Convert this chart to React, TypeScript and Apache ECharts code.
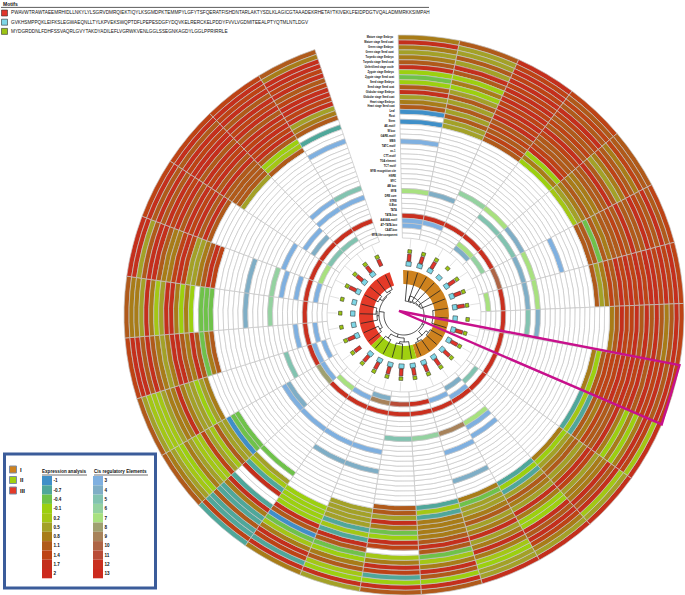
import React, { useEffect, useRef } from "react";
import * as echarts from "echarts";

const _ = null;
const rowLabels = [
  "Mature stage Embryo","Mature stage Seed coat","Green stage Embryo","Green stage Seed coat","Torpedo stage Embryo","Torpedo stage Seed coat",
  "Unfertilized stage ovule","Zygote stage Embryo","Zygote stage Seed coat","Seed stage Embryo","Seed stage Seed coat","Globular stage Embryo",
  "Globular stage Seed coat","Heart stage Embryo","Heart stage Seed coat","Leaf","Root","Stem",
  "AE-motif","W box","GARE-motif","MBS","TATC-motif","as-1","CTT-motif","TGA element","TCT motif","MYB recognition site","HSRE","MYC","AB box","MYB","DRE core","STRE","G-Box","TATA","TATA-box","AAGAA-motif","AT~TATA-box","CAAT-box","MYB-like component",
];
const col00 = [.8,1.7,.8,.5,.8,1.1,1.7,-.1,-.4,-.1,1.1,1.7,.5,.8,1.1,-1,_,-1];
const col01 = [1.1,.5,.5,1.1,.5,1.7,1.1,-.1,.8,-.1,.5,1.1,.5,1.1,.5,1.1,.5,.5];
const col02 = [1.7,1.4,1.7,1.4,1.7,1.4,1.7,1.4,1.7,1.4,1.7,1.4,1.7,1.1,1.4,1.1,1.4,1.1];
const col03 = [1.4,1.1,1.4,1.1,1.7,1.4,1.1,1.4,1.1,1.7,1.4,1.1,1.1,1.4,1.7,-.1,.8,-.1];
const col04 = [1.1,1.1,1.4,.8,1.1,1.4,.8,.5,1.1,1.7,1.1,1.1,.8,.8,1.1,.8,.5,.2];
const col05 = [1.4,1.1,1.7,1.1,1.4,1.7,1.1,1.1,1.7,1.1,1.4,1.1,1.1,.8,1.1,-.3,1.1,1.1];
const col06 = [1.4,1.7,1.4,1.7,1.4,1.7,1.7,1.4,1.7,1.4,1.7,1.4,1.7,1.1,1.4,.8,.5,1.1];
const col07 = [1.4,1.7,1.1,.8,1.1,1.7,1.1,1.7,1.1,1.7,1.4,1.4,1.7,1.1,.8,_,_,_];
const col08 = [1.4,1.7,1.1,1.7,1.4,1.7,1.1,1.7,1.4,1.7,1.4,1.7,1.4,1.4,1.4,1.1,-.1,.8];
const col09 = [1.7,.2,1.4,1.7,.8,-.1,.8,-.1,.8,1.7,1.1,1.1,1.4,.8,1.1,-.6,.2,-.8];
const col10 = [1.7,.5,.2,1.7,1.1,1.7,.8,.8,.5,1.4,1.7,.8,.5,1.1,.8,.5,-.1,.8];
const col11 = [1.7,.5,.8,1.4,1.7,1.1,1.7,-.1,-.1,.8,1.7,.5,.8,1.1,.5,-.8,-.2,-.8];
const col12 = [1.7,.5,.5,-.1,.2,.8,1.7,.8,.5,1.7,.8,.5,1.1,.8,.5,.5,-.3,.8];
const col13 = [1.1,1.7,-.1,1.1,1.7,.8,.2,-.4,1.1,1.7,1.1,.8,.8,.8,.8,-.8,.2,-.7];
const col14 = [1.1,1.7,-.1,-.7,1.4,1.7,.8,.2,_,1.4,1.7,-.1,-.4,.8,1.7,.5,1.1,1.1];
const col15 = [.5,1.7,-.1,.2,1.1,.8,-.1,-.4,1.1,1.7,-.7,.2,-.7,.5,.5,.5,.5,_];
const col16 = [.8,1.7,-.8,1.4,1.7,.8,.2,-.3,-1,1.1,1.7,-.1,-.1,-.1,-.1,_,_,_];
const col17 = [-.7,1.4,-.6,-.7,1.1,-.6,-.7,.8,1.7,-.7,_,_,1.7,-.7,.2,.5,_,-.4];
const col18 = [1.1,.8,.5,.2,-.1,.8,.5,.2,.2,1.4,.5,.2,1.1,.5,.5,-1,-.5,-.4];
const col19 = [1.1,.5,.2,.2,.2,.5,.8,.8,1.7,.8,.5,.5,-.1,.5,.8,_,_,_];
const col20 = [1.4,1.7,1.7,1.1,1.7,1.1,.8,.5,.8,1.7,1.7,1.1,.8,1.7,1.1,-.4,.8,1.1];
const col21 = [1.1,.8,.8,.5,1.7,.8,.2,.5,1.7,1.7,.8,-.1,.8,-.1,_,-.4,-.4,-.4];
const col22 = [1.7,1.7,.5,1.1,1.7,1.7,1.1,.8,.8,1.4,1.7,1.4,.5,.5,.8,1.1,1.7,1.4];
const col23 = [1.4,1.7,1.1,1.7,1.1,1.7,1.4,1.7,1.1,1.7,1.4,1.7,1.1,1.7,1.1,_,_,_];
const col24 = [1.4,1.7,1.1,1.7,1.4,1.7,1.7,1.1,1.7,1.4,1.7,1.1,1.7,1.1,1.1,1.1,1.1,.5];
const col25 = [1.4,1.7,1.4,1.7,1.1,1.7,1.4,1.7,1.1,1.7,1.4,1.7,1.4,1.7,1.1,-.1,.2,1.1];
const col26 = [1.1,.8,1.7,1.7,1.4,1.7,1.1,1.4,1.7,1.7,1.4,1.7,.5,.8,1.1,_,-.7,_];
const exprCols = [col00,col01,col02,col03,col04,col05,col06,col07,col08,col09,col10,col11,col12,col13,col14,col15,col16,col17,col18,col19,col20,col21,col22,col23,col24,col25,col26];

// [row, column, value]
const cisCells = [
  [21,0,3],[31,0,7],[36,0,12],[37,0,3],[38,0,3],
  [31,1,4],[36,1,12],[37,1,3],
  [29,2,6],[36,2,12],
  [29,3,7],[31,3,5],[36,3,12],[38,3,7],[39,3,4],
  [29,4,4],[31,4,5],[36,4,12],[38,4,6],
  [23,5,3],[29,5,7],[31,5,4],[36,5,10],
  [29,6,7],[31,6,4],[36,6,12],[39,6,7],
  [29,7,4],[31,7,5],[36,7,12],
  [36,8,12],[36,9,12],
  [36,10,12],[38,10,5],
  [28,11,3],[30,11,3],[31,11,7],[36,11,12],[37,11,3],[39,11,4],
  [21,12,4],[27,12,3],[31,12,9],[36,12,12],[38,12,3],
  [31,13,6],[36,13,12],[38,13,12],
  [31,14,5],[36,14,12],[38,14,11],
  [24,15,4],[28,15,3],[36,15,12],[38,15,9],[39,15,4],
  [24,16,4],[28,16,3],[36,16,12],[38,16,3],
  [28,17,3],[36,17,12],[38,17,7],
  [28,18,3],[29,18,4],[36,18,8],[37,18,3],
  [31,19,5],[36,19,12],[37,19,3],[39,19,3],
  [34,20,3],[36,20,12],[38,20,3],
  [24,21,4],[29,21,6],[36,21,12],
  [24,22,4],[29,22,6],[31,22,3],[34,22,3],[36,22,12],[38,22,3],
  [30,23,3],[36,23,12],[38,23,7],
  [32,24,3],[34,24,4],[36,24,12],[38,24,5],
  [29,25,3],[31,25,3],[36,25,12],[38,25,5],
  [19,26,3],[29,26,5],[31,26,3],[36,26,12],
];

const exprTicks = [-1,-0.7,-0.4,-0.1,0.2,0.5,0.8,1.1,1.4,1.7,2];
const exprColors = ["#3F8FC8","#4FA79A","#6FC24A","#9CD00F","#A3C715","#A3A127","#A87C18","#B05A1A","#BD4315","#C42F1C","#CC2A1E"];
const cisTicks = [3,4,5,6,7,8,9,10,11,12,13];
const cisColors = ["#7FB0E0","#7FAEC6","#82C3B0","#94D2A0","#A8E17F","#9FA070","#A7825A","#AE6545","#B94C38","#C9301F","#CC2A1E"];

const clusterNames = ["I","II","III"];
const clusterColors = ["#CE821E","#A0D010","#E43A28"];
const clusterSizes = [13,5,9];

const motifTitles = [
  "PWAVWTRAWTAEEMRHIDLLNKYLYLSGRVDMRQIEKTIQYLKSGMDPKTEMMPYLGFYTSFQERATFISHDNTARLAKTYSDLKLAGICGTAAADEKRHETAYTKIVEKLFEIDPDGTVQALADMMRKKSIMPAH",
  "GVKHSMPPQKLEIFKSLEGWAEQNLLTYLKPVEKSWQPTDFLPEPESDGFYDQVKELRERCKELPDDYFVVLVGDMITEEALPTYQTMLNTLDGV",
  "MYDGRDDNLFDHFSSVAQRLGVYTAKDYADILEFLVGRWKVENLGGLSSEGNKAGDYLGGLPPRIRRLE",
];
const motifColors = ["#E0352B","#7FD6E6","#9CC414"];
const motifRedCols = [0,1,2,4,5,6,8,9,10,11,12,13,14,15,16,17,18,19,23,24,25,26];
const motifCyanCols = [0,1,2,3,4,5,6,7,8,9,10,11,12,13,14,15,16,17,19,20,21,22,23,24,25];
const motifGreenCols = [0,1,2,3,4,5,6,7,8,9,10,11,12,13,14,15,16,17,18,19,20,21,22,23,24,25,26];

// node = [radius, children...]; a number child is a leaf column
const treeRoot: any = [20,
  [14,0,[15,1,[16,2,[17,3,[18,4,5]]]]],
  [22,[29,6,7,8],[27,[30,9,10],[30,11,12]]],
  [23,[27,13,[29,14,15]],[28,16,17]],
  [25,[28,18,19],[27,20,[28,21,22]],[26,[29,23,24],[28,25,26]]],
];

const COLS = 27;
const ANGLE_MAX = 360 / 12.69;
const START = 91.2;
const LEAF_R = 44;

const nearest = (ticks: number[], colors: string[], v: number) => {
  let best = 0;
  ticks.forEach((t, i) => { if (Math.abs(t - v) < Math.abs(ticks[best] - v)) best = i; });
  return colors[best];
};

export default function App() {
  const ref = useRef<HTMLDivElement>(null);
  useEffect(() => {
    const chart = echarts.init(ref.current!, undefined, { renderer: "svg" });

    // heat cells
    const cells: any[] = [];
    const cisMap: Record<string, number> = {};
    cisCells.forEach(([r, c, v]) => { cisMap[r + "_" + c] = v; });
    for (let c = 0; c < COLS; c++) {
      for (let r = 0; r < rowLabels.length; r++) {
        let color = "#ffffff";
        if (r < 18) {
          const v = exprCols[c][r];
          if (v !== null) color = nearest(exprTicks, exprColors, v as number);
        } else if (cisMap[r + "_" + c] !== undefined) {
          color = nearest(cisTicks, cisColors, cisMap[r + "_" + c]);
        }
        cells.push({ r, c, color, value: [r, c] });
      }
    }

    // cluster ring
    const ring: any[] = [];
    let idx = 0;
    clusterSizes.forEach((n, k) => { ring.push({ from: idx, to: idx + n, color: clusterColors[k], value: [38, idx] }); idx += n; });

    // dendrogram
    const links: any[] = [];
    const walk = (node: any): number => {
      if (typeof node === "number") return node + 0.5;
      const [rad, ...kids] = node;
      const angles = kids.map((k: any) => {
        const a = walk(k);
        links.push({ type: "r", from: rad, to: typeof k === "number" ? LEAF_R : k[0], a });
        return a;
      });
      const lo = Math.min(...angles), hi = Math.max(...angles);
      links.push({ type: "a", rad, lo, hi });
      return (lo + hi) / 2;
    };
    walk(treeRoot);

    // motif glyphs
    const glyphs: any[] = [];
    motifCyanCols.forEach((c) => glyphs.push({ c, r0: 49, r1: 53.5, hw: 2.6, color: motifColors[1] }));
    motifRedCols.forEach((c) => glyphs.push({ c, r0: 54, r1: 61, hw: 1.8, color: motifColors[0] }));
    motifGreenCols.forEach((c) => glyphs.push({ c, r0: 62, r1: 65.5, hw: 1.9, color: motifColors[2] }));

    const sectorOf = (api: any, cs: any, rr0: number, rr1: number, a0: number, a1: number, style: any) => {
      const p0 = api.coord([rr1, a0]);
      const p1 = api.coord([rr1, a1]);
      return {
        type: "sector",
        shape: {
          cx: cs.cx, cy: cs.cy, r: rr1, r0: rr0,
          startAngle: Math.atan2(p0[1] - cs.cy, p0[0] - cs.cx),
          endAngle: Math.atan2(p1[1] - cs.cy, p1[0] - cs.cx),
          clockwise: true,
        },
        style,
      };
    };

    const hiddenAxis = { axisLine: { show: false }, axisTick: { show: false }, axisLabel: { show: false }, splitLine: { show: false } };

    // legend graphics
    const g: any[] = [];
    const txt = (x: number, y: number, text: string, fontSize: number, fontWeight: any = "normal", align = "left") =>
      g.push({ type: "text", x, y, z: 10, style: { text, fontSize, fontWeight, fontFamily: "Liberation Sans", fill: "#111", textAlign: align, textVerticalAlign: "middle" } });

    txt(3, 3.5, "Motifs", 5, "bold");
    g.push({ type: "line", z: 10, shape: { x1: 1, y1: 7.4, x2: 429, y2: 7.4 }, style: { stroke: "#333", lineWidth: 0.8 } });
    motifTitles.forEach((t, i) => {
      const y = 10 + i * 9.2;
      g.push({ type: "rect", z: 10, shape: { x: 1.5, y, width: 6, height: 6 }, style: { fill: motifColors[i], stroke: "#333", lineWidth: 0.6 } });
      txt(11, y + 2.8, t, 4.7);
    });

    g.push({ type: "rect", z: 10, shape: { x: 4.5, y: 454, width: 151, height: 134 }, style: { fill: "#fff", stroke: "#3B5C9A", lineWidth: 3 } });
    clusterNames.forEach((n, i) => {
      const y = 466 + i * 10.5;
      g.push({ type: "rect", z: 11, shape: { x: 9.5, y, width: 7, height: 7 }, style: { fill: clusterColors[i], stroke: "#7B8BA5", lineWidth: 1 } });
      g.push({ type: "text", x: 20, y: y + 3.5, z: 11, style: { text: n, fontSize: 6, fontWeight: "bold", fontFamily: "Liberation Sans", fill: "#111", textVerticalAlign: "middle" } });
    });
    const drawStrip = (x0: number, title: string, titleX: number, lineW: number, ticks: number[], colors: string[]) => {
      g.push({ type: "text", x: titleX, y: 471.5, z: 11, style: { text: title, fontSize: 4.6, fontWeight: "bold", fontFamily: "Liberation Sans", fill: "#111", textVerticalAlign: "middle" } });
      g.push({ type: "line", z: 11, shape: { x1: titleX, y1: 475, x2: titleX + lineW, y2: 475 }, style: { stroke: "#333", lineWidth: 0.7 } });
      ticks.forEach((t, i) => {
        const y = 476 + i * 9.3;
        g.push({ type: "rect", z: 11, shape: { x: x0, y, width: 10, height: 9.3 }, style: { fill: colors[i] } });
        g.push({ type: "text", x: x0 + 11.5, y: y + 4.8, z: 11, style: { text: String(t), fontSize: 4.6, fontWeight: "bold", fontFamily: "Liberation Sans", fill: "#111", textVerticalAlign: "middle" } });
      });
    };
    drawStrip(42, "Expression analysis", 42, 45, exprTicks, exprColors);
    drawStrip(93, "Cis regulatory Elements", 94, 54, cisTicks, cisColors);

    const stroke = "#c4c4c4";

    chart.setOption({
      animation: false,
      backgroundColor: "#fff",
      polar: [
        { center: [404, 315], radius: [77, 280] },
        { center: [404, 315], radius: [0, 280] },
      ],
      radiusAxis: [
        {
          polarIndex: 0, type: "category", inverse: true, data: rowLabels,
          axisLine: { show: false }, axisTick: { show: false }, splitLine: { show: false },
          z: 8,
          axisLabel: { show: true, interval: 0, margin: 5, rotate: 0, fontSize: 2.6, fontWeight: "bold", fontFamily: "Liberation Sans", color: "#111", hideOverlap: false },
        },
        { polarIndex: 1, type: "value", min: 0, max: 280, ...hiddenAxis },
      ],
      angleAxis: [
        { polarIndex: 0, type: "value", min: 0, max: ANGLE_MAX, startAngle: START, clockwise: true, ...hiddenAxis },
        { polarIndex: 1, type: "value", min: 0, max: ANGLE_MAX, startAngle: START, clockwise: true, ...hiddenAxis },
      ],
      series: [
        {
          type: "custom", coordinateSystem: "polar", polarIndex: 0, data: cells, silent: true,
          renderItem: (p: any, api: any) => {
            const cell = cells[p.dataIndex];
            const cs = p.coordSys;
            const a = api.coord([cell.r, cell.c]);
            const rc = Math.hypot(a[0] - cs.cx, a[1] - cs.cy);
            const bw = api.size([1, 1], [cell.r, cell.c])[0];
            const b = api.coord([cell.r, cell.c + 1]);
            return {
              type: "sector",
              shape: {
                cx: cs.cx, cy: cs.cy, r: rc + bw / 2, r0: rc - bw / 2,
                startAngle: Math.atan2(a[1] - cs.cy, a[0] - cs.cx),
                endAngle: Math.atan2(b[1] - cs.cy, b[0] - cs.cx),
                clockwise: true,
              },
              style: { fill: cell.color, stroke, lineWidth: 0.7 },
            };
          },
        },
        {
          type: "custom", coordinateSystem: "polar", polarIndex: 1, data: ring, silent: true,
          renderItem: (p: any, api: any) => {
            const it = ring[p.dataIndex];
            return sectorOf(api, p.coordSys, 31, 45, it.from, it.to, { fill: it.color });
          },
        },
        {
          type: "custom", coordinateSystem: "polar", polarIndex: 1, data: links.map((l, i) => ({ value: [10, i] })), silent: true, z: 3,
          renderItem: (p: any, api: any) => {
            const l = links[p.dataIndex];
            const pts: number[][] = [];
            if (l.type === "r") {
              pts.push(api.coord([l.from, l.a]), api.coord([l.to, l.a]));
            } else {
              const n = Math.max(2, Math.ceil((l.hi - l.lo) * 4));
              for (let i = 0; i <= n; i++) pts.push(api.coord([l.rad, l.lo + ((l.hi - l.lo) * i) / n]));
            }
            return { type: "polyline", shape: { points: pts }, style: { stroke: "#222", lineWidth: 0.8, fill: "none" } };
          },
        },
        {
          type: "custom", coordinateSystem: "polar", polarIndex: 1, silent: true, z: 3,
          data: Array.from({ length: COLS }, (_v, c) => ({ value: [70, c] })),
          renderItem: (p: any, api: any) => {
            const c = p.dataIndex + 0.5;
            const a = api.coord([67, c]), b = api.coord([77, c]);
            return { type: "line", shape: { x1: a[0], y1: a[1], x2: b[0], y2: b[1] }, style: { stroke: "#cfcfcf", lineWidth: 0.6 } };
          },
        },
        {
          type: "custom", coordinateSystem: "polar", polarIndex: 1, data: glyphs.map((g2) => ({ value: [g2.r0, g2.c] })), silent: true, z: 4,
          renderItem: (p: any, api: any) => {
            const it = glyphs[p.dataIndex];
            const a = api.coord([it.r0, it.c + 0.5]);
            const b = api.coord([it.r1, it.c + 0.5]);
            const dx = b[0] - a[0], dy = b[1] - a[1];
            const len = Math.hypot(dx, dy);
            const nx = (-dy / len) * it.hw, ny = (dx / len) * it.hw;
            return {
              type: "polygon",
              shape: { points: [[a[0] + nx, a[1] + ny], [b[0] + nx, b[1] + ny], [b[0] - nx, b[1] - ny], [a[0] - nx, a[1] - ny]] },
              style: { fill: it.color, stroke: "#222", lineWidth: 0.5 },
            };
          },
        },
        {
          type: "custom", coordinateSystem: "polar", polarIndex: 1, data: [{ value: [280, 8] }], silent: true, z: 6,
          renderItem: (_p: any, api: any) => ({
            type: "polygon",
            shape: { points: [api.coord([6.4, 24.4]), api.coord([280, 8]), api.coord([280, 9])] },
            style: { fill: "none", stroke: "#C8108C", lineWidth: 2.4, lineJoin: "miter" },
          }),
        },
      ],
      graphic: g,
    });
    return () => chart.dispose();
  }, []);
  return <div ref={ref} style={{ position: "fixed", left: 0, top: 0, width: 685, height: 595 }} />;
}
